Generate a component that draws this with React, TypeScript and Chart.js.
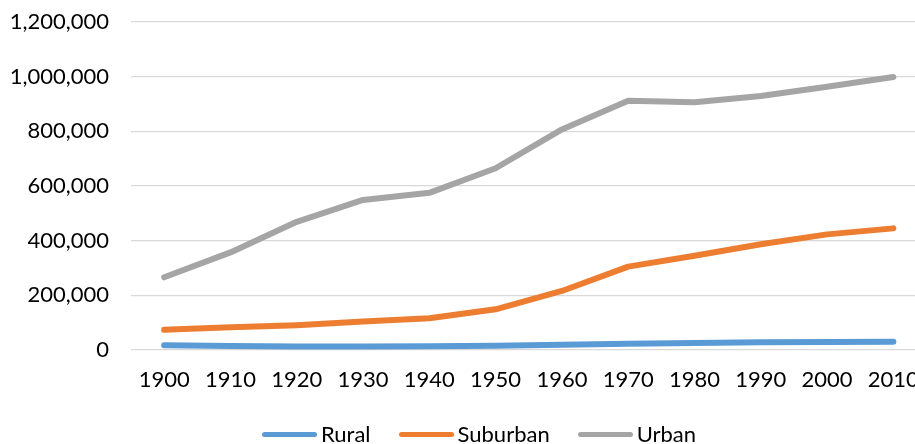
import React, { useEffect, useRef } from "react";
import { Chart, registerables } from "chart.js";

Chart.register(...registerables);

const years = ["1900", "1910", "1920", "1930", "1940", "1950", "1960", "1970", "1980", "1990", "2000", "2010"];
const rural = [17000, 15000, 13000, 13000, 14000, 16000, 19000, 23000, 26000, 28000, 29000, 30000];
const suburban = [74000, 83000, 91000, 104000, 116000, 149000, 216000, 305000, 345000, 387000, 423000, 445000];
const urban = [266000, 357000, 469000, 549000, 575000, 665000, 807000, 912000, 906000, 929000, 963000, 999000];

const seriesNames = ["Rural", "Suburban", "Urban"];
const seriesColors = ["#5B9BD5", "#ED7D31", "#A5A5A5"];
const seriesData = [rural, suburban, urban];

const FONT = "Lato, 'Open Sans', sans-serif";

export default function App() {
  const ref = useRef<HTMLCanvasElement | null>(null);

  useEffect(() => {
    document.body.style.margin = "0";
    document.body.style.overflow = "hidden";
    const ctx = ref.current;
    if (!ctx) return;
    const chart = new Chart(ctx, {
      type: "line",
      data: {
        labels: years,
        datasets: seriesNames.map((name, i) => ({
          label: name,
          data: seriesData[i],
          borderColor: seriesColors[i],
          backgroundColor: seriesColors[i],
          borderWidth: 6,
          borderCapStyle: "round",
          borderJoinStyle: "round",
          pointRadius: 0,
          tension: 0,
          fill: false,
        })),
      },
      options: {
        animation: false,
        responsive: true,
        maintainAspectRatio: false,
        layout: { autoPadding: false, padding: { top: 22, right: 8.5, bottom: 0, left: 0 } },
        plugins: {
          legend: { display: false },
          tooltip: { enabled: false },
        },
        scales: {
          x: {
            type: "category",
            offset: true,
            grid: { display: false, drawTicks: false },
            border: { display: false },
            ticks: {
              color: "#000",
              font: { family: FONT, size: 22 },
              padding: 17,
              maxRotation: 0,
              autoSkip: false,
            },
            afterFit: (s: any) => {
              s.height = 94;
              s.paddingLeft = 0;
              s.paddingRight = 0;
            },
          },
          y: {
            min: 0,
            max: 1200000,
            grid: { color: "#D9D9D9", lineWidth: 1.3, drawTicks: false },
            border: { display: false },
            ticks: {
              stepSize: 200000,
              color: "#000",
              font: { family: FONT, size: 22 },
              padding: 22,
              callback: (v: any) => Number(v).toLocaleString("en-US"),
            },
            afterFit: (s: any) => {
              s.width = 131;
              s.paddingTop = 0;
              s.paddingBottom = 0;
            },
          },
        },
      },
    });
    return () => chart.destroy();
  }, []);

  return (
    <div style={{ position: "relative", width: 915, height: 444, overflow: "hidden" }}>
      <div style={{ position: "absolute", left: 0, top: 0, width: 935, height: 444 }}>
        <canvas ref={ref} />
      </div>
      <div
        style={{
          position: "absolute",
          left: 262,
          top: 420,
          display: "flex",
          alignItems: "center",
          fontFamily: FONT,
          fontSize: 22,
          color: "#000",
          lineHeight: "28px",
        }}
      >
        {seriesNames.map((name, i) => (
          <div key={name} style={{ display: "flex", alignItems: "center", marginRight: 28 }}>
            <span
              style={{
                display: "inline-block",
                width: 55,
                height: 5,
                borderRadius: 3,
                background: seriesColors[i],
                marginRight: 4,
              }}
            />
            <span>{name}</span>
          </div>
        ))}
      </div>
    </div>
  );
}
